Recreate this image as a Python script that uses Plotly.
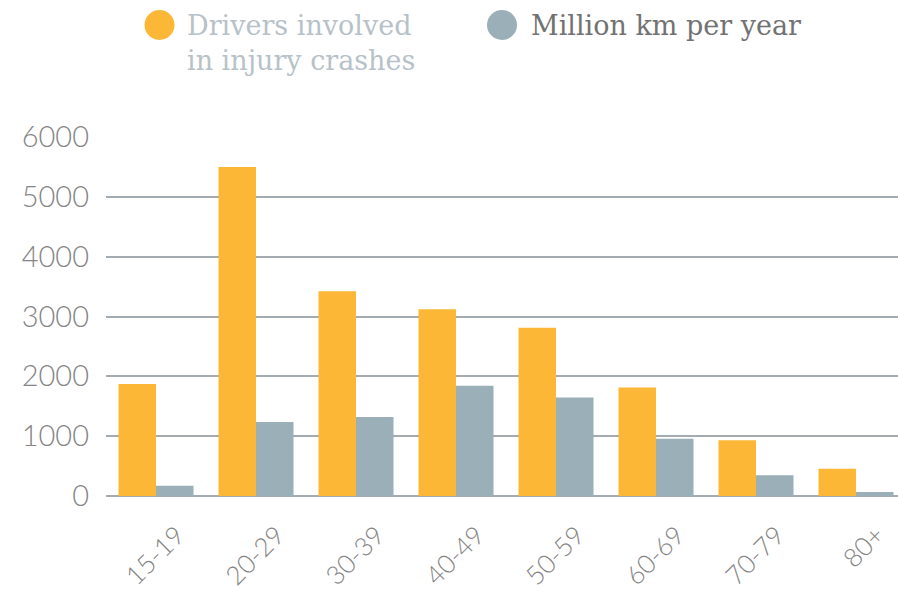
import plotly.graph_objects as go

# Age groups and the two measured series
age_groups = ["15-19", "20-29", "30-39", "40-49", "50-59", "60-69", "70-79", "80+"]
injury_crash_drivers = [1870, 5500, 3420, 3120, 2810, 1815, 930, 456]
million_km_per_year = [172, 1236, 1320, 1842, 1648, 957, 345, 67]
y_ticks = [0, 1000, 2000, 3000, 4000, 5000, 6000]

ORANGE = "#FBB735"
SLATE = "#9AAFB8"
GRID = "#A3ABB0"

W, H = 898, 593
ML, MR, MT, MB = 106, 0, 137, 97
PW, PH = W - ML - MR, H - MT - MB


def px_x(px):
    return (px - ML) / PW


def px_y(py):
    return 1 - (py - MT) / PH


fig = go.Figure()
fig.add_trace(go.Bar(x=age_groups, y=injury_crash_drivers, marker_color=ORANGE,
                     marker_line_width=0, name="Drivers involved in injury crashes",
                     showlegend=False))
fig.add_trace(go.Bar(x=age_groups, y=million_km_per_year, marker_color=SLATE,
                     marker_line_width=0, name="Million km per year",
                     showlegend=False))

# Custom legend: round swatches with serif labels above the plot
for cx, color in [(159.5, ORANGE), (502, SLATE)]:
    fig.add_shape(type="circle", xref="paper", yref="paper", layer="above",
                  x0=px_x(cx - 15), x1=px_x(cx + 15),
                  y0=px_y(25 + 15), y1=px_y(25 - 15),
                  fillcolor=color, line_width=0)
fig.add_annotation(xref="paper", yref="paper", x=px_x(185), y=px_y(8),
                   xanchor="left", yanchor="top", align="left", showarrow=False,
                   text="Drivers involved<br>in injury crashes",
                   font=dict(family="DejaVu Serif", size=27, color="#B7C2C8"))
fig.add_annotation(xref="paper", yref="paper", x=px_x(529), y=px_y(8),
                   xanchor="left", yanchor="top", align="left", showarrow=False,
                   text="Million km per year",
                   font=dict(family="DejaVu Serif", size=27, color="#727272"))

fig.update_layout(
    width=W, height=H,
    margin=dict(l=ML, r=MR, t=MT, b=MB),
    paper_bgcolor="white", plot_bgcolor="white",
    barmode="group", bargap=0.25, bargroupgap=0,
    xaxis=dict(range=[-0.5, 7.42], tickangle=-45, showgrid=False, showline=False,
               ticks="", ticklabelshift=21, ticklabelstandoff=18,
               tickfont=dict(family="Lato", size=26, weight=300, color="#858585")),
    yaxis=dict(range=[0, 6000], tickvals=y_ticks, showgrid=True, gridcolor=GRID,
               gridwidth=1.5, zeroline=True, zerolinecolor=GRID, zerolinewidth=1.5,
               ticklabelstandoff=16,
               tickfont=dict(family="Lato", size=29, weight=300, color="#858585")),
)

fig.write_html("out.html")
